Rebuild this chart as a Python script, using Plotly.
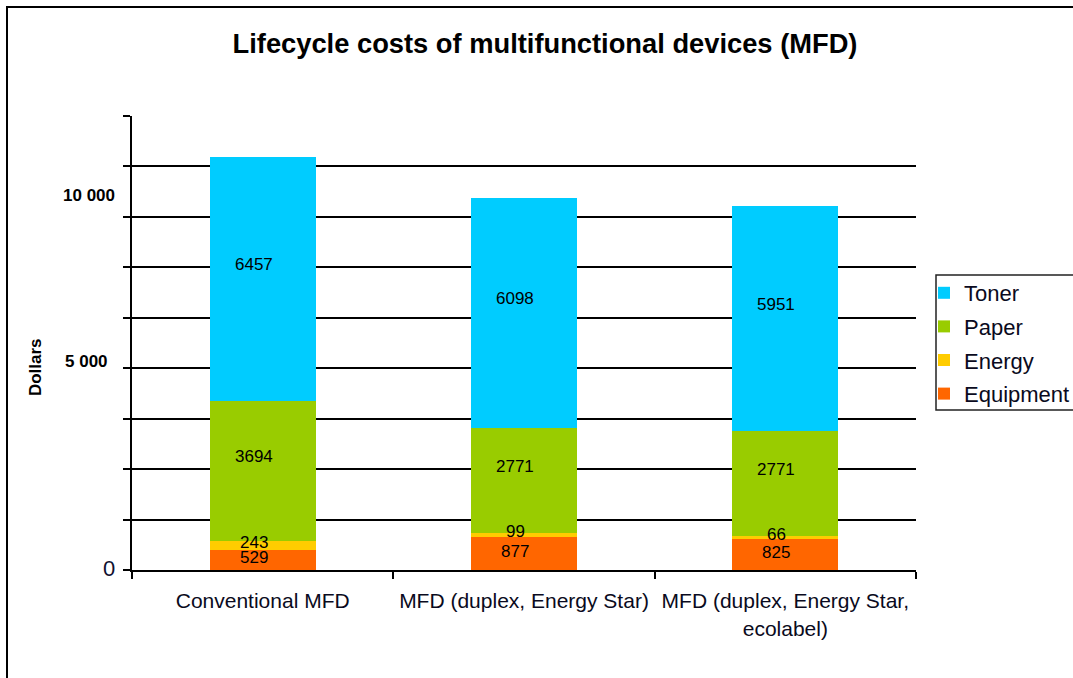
import plotly.graph_objects as go

# ---- data ----
categories = ["Conventional MFD", "MFD (duplex, Energy Star)", "MFD (duplex, Energy Star,<br>ecolabel)"]
equipment = [529, 877, 825]
energy = [243, 99, 66]
paper = [3694, 2771, 2771]
toner = [6457, 6098, 5951]
series_names = ["Equipment", "Energy", "Paper", "Toner"]
series_values = [equipment, energy, paper, toner]
y_label_values = [0, 5000, 10000]
y_label_text = ["0", "5 000", "10 000"]
y_max = 12000
n_grid = 9

# ---- styles ----
colors = ["#FF6600", "#FFCC00", "#99CC00", "#00CCFF"]
label_yshift = [2, 3, 14, 14]
FONT = "Liberation Sans, Arial, sans-serif"

fig = go.Figure()
for k, (name, vals, col) in enumerate(zip(series_names, series_values, colors)):
    fig.add_trace(go.Bar(
        x=categories, y=vals, name=name, legendgroup=name,
        legendrank=len(series_names) - k,
        marker=dict(color=col, line=dict(width=0)),
        width=0.406,
    ))

annotations = []
# value labels inside segments
base = [0] * len(categories)
for vals, ys in zip(series_values, label_yshift):
    for i, v in enumerate(vals):
        annotations.append(dict(
            x=categories[i], y=base[i] + v / 2, xref="x", yref="y",
            text=str(v), showarrow=False, xshift=-9, yshift=ys,
            font=dict(family=FONT, size=17, color="#000000"),
        ))
        base[i] += v

# y-axis labels
y_label_style = [
    dict(size=22, bold=False, xshift=-15, yshift=2, color="#101030"),
    dict(size=17, bold=True, xshift=-22, yshift=19, color="#000000"),
    dict(size=17, bold=True, xshift=-15, yshift=-4, color="#000000"),
]
for val, txt, st in zip(y_label_values, y_label_text, y_label_style):
    t = f"<b>{txt}</b>" if st["bold"] else txt
    annotations.append(dict(
        x=0, y=val, xref="paper", yref="y", text=t, showarrow=False,
        xanchor="right", yanchor="middle", xshift=st["xshift"], yshift=st["yshift"],
        font=dict(family=FONT, size=st["size"], color=st["color"]),
    ))

# axis title
annotations.append(dict(
    x=-0.1237, y=0.447, xref="paper", yref="paper", text="<b>Dollars</b>",
    textangle=-90, showarrow=False, xanchor="center", yanchor="middle",
    font=dict(family=FONT, size=17, color="#000000"),
))

grid_vals = [y_max * k / n_grid for k in range(n_grid + 1)]

PX = lambda px: (px - 132) / 784
PY = lambda py: (570 - py) / 454

fig.update_layout(
    width=1073, height=678,
    margin=dict(l=132, r=157, t=116, b=108, autoexpand=False),
    paper_bgcolor="white", plot_bgcolor="white",
    barmode="stack",
    title=dict(
        text="<b>Lifecycle costs of multifunctional devices (MFD)</b>",
        x=545 / 1073, xanchor="center", xref="container",
        y=1 - 43 / 678, yanchor="middle", yref="container",
        font=dict(family=FONT, size=27.3, color="#000000"),
    ),
    xaxis=dict(
        type="category", showgrid=False, showline=True, linecolor="#000000", linewidth=2,
        ticks="outside", tickson="boundaries", ticklen=7, tickwidth=2, tickcolor="#000000",
        tickfont=dict(family=FONT, size=21, color="#0a0a20"), tickangle=0,
        ticklabelstandoff=11,
        range=[-0.5, 2.5], automargin=False,
    ),
    yaxis=dict(
        range=[0, y_max], tickmode="array", tickvals=grid_vals, ticktext=[""] * len(grid_vals),
        showgrid=True, gridcolor="#000000", gridwidth=2,
        showline=True, linecolor="#000000", linewidth=2,
        ticks="outside", ticklen=7, tickwidth=2, tickcolor="#000000",
        zeroline=False, automargin=False,
    ),
    legend=dict(
        x=PX(924), y=PY(272), xanchor="left", yanchor="top",
        borderwidth=0, bgcolor="rgba(0,0,0,0)",
        font=dict(family=FONT, size=22, color="#0a0a20"),
        traceorder="grouped", tracegroupgap=2,
    ),
    annotations=annotations,
    shapes=[
        dict(
            type="rect", xref="paper", yref="paper",
            x0=PX(7), x1=PX(1090), y0=PY(700), y1=PY(7),
            line=dict(color="#000000", width=2), fillcolor="rgba(0,0,0,0)", layer="below",
        ),
        dict(
            type="rect", xref="paper", yref="paper",
            x0=PX(936), x1=PX(1090), y0=PY(410), y1=PY(275),
            line=dict(color="#222222", width=1.5), fillcolor="white", layer="below",
        ),
    ],
    bargap=0.594,
)

fig.write_html("out.html", post_script="document.body.style.margin='0';",
               config={"displayModeBar": False})
